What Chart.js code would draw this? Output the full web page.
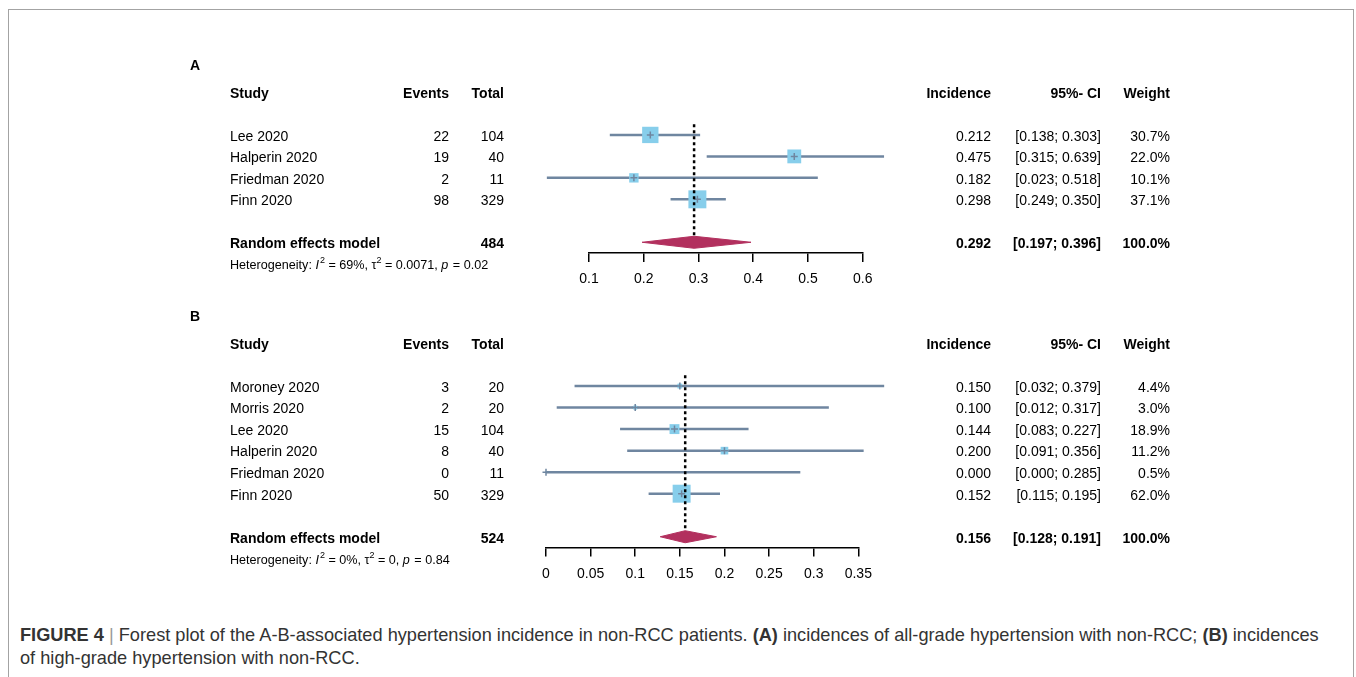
<!DOCTYPE html>
<html>
<head>
<meta charset="utf-8">
<script src="https://cdn.jsdelivr.net/npm/chart.js@4.4.1/dist/chart.umd.min.js"></script>
<style>
  body { margin: 0; background: #fff; width: 1356px; height: 677px; overflow: hidden; position: relative;
         font-family: "Liberation Sans", Arial, sans-serif; }
  #frame { position: absolute; left: 8px; top: 9px; width: 1344px; height: 720px;
           border: 1.5px solid #a3a3a3; border-bottom: none; }
  canvas { position: absolute; left: 0; }
  #chartA { top: 0; }
  #chartB { top: 300px; }
  #caption { position: absolute; left: 20px; top: 624px; font-size: 18.2px; line-height: 23px;
             color: #333; white-space: nowrap; }
  #caption .sep { color: #999; }
</style>
</head>
<body>
<div id="frame"></div>
<canvas id="chartA" width="1356" height="300"></canvas>
<canvas id="chartB" width="1356" height="290"></canvas>
<div id="caption"><b>FIGURE 4</b> <span class="sep">|</span> Forest plot of the A-B-associated hypertension incidence in non-RCC patients. <b>(A)</b> incidences of all-grade hypertension with non-RCC; <b>(B)</b> incidences<br>of high-grade hypertension with non-RCC.</div>

<script>
// panel A - all-grade hypertension
const studiesA = ['Lee 2020', 'Halperin 2020', 'Friedman 2020', 'Finn 2020'];
const eventsA = [22, 19, 2, 98];
const totalsA = [104, 40, 11, 329];
const incidenceA = [0.212, 0.475, 0.182, 0.298];
const lowerA = [0.138, 0.315, 0.023, 0.249];
const upperA = [0.303, 0.639, 0.518, 0.350];
const weightA = [30.7, 22.0, 10.1, 37.1];
const pooledA = [0.292, 0.197, 0.396];   // estimate, lower, upper
const pooledTotalA = 484;
const hetA = ['69%', '0.0071', '0.02'];  // I2, tau2, p
const ticksA = [0.1, 0.2, 0.3, 0.4, 0.5, 0.6];
const tickLabelsA = ['0.1', '0.2', '0.3', '0.4', '0.5', '0.6'];

// panel B - high-grade hypertension
const studiesB = ['Moroney 2020', 'Morris 2020', 'Lee 2020', 'Halperin 2020', 'Friedman 2020', 'Finn 2020'];
const eventsB = [3, 2, 15, 8, 0, 50];
const totalsB = [20, 20, 104, 40, 11, 329];
const incidenceB = [0.150, 0.100, 0.144, 0.200, 0.000, 0.152];
const lowerB = [0.032, 0.012, 0.083, 0.091, 0.000, 0.115];
const upperB = [0.379, 0.317, 0.227, 0.356, 0.285, 0.195];
const weightB = [4.4, 3.0, 18.9, 11.2, 0.5, 62.0];
const pooledB = [0.156, 0.128, 0.191];
const pooledTotalB = 524;
const hetB = ['0%', '0', '0.84'];
const ticksB = [0, 0.05, 0.1, 0.15, 0.2, 0.25, 0.3, 0.35];
const tickLabelsB = ['0', '0.05', '0.1', '0.15', '0.2', '0.25', '0.3', '0.35'];

const FONT = '"Liberation Sans", Arial, sans-serif';
const CI_COLOR = '#6f86a0';
const SQUARE_COLOR = '#87ceeb';
const DIAMOND_COLOR = '#b2305e';
const DIAMOND_HALF = 0.28;   // half height of the diamond, in rows
const TEXT_SHIFT = 2;        // canvas 'middle' sits a bit high

const tablePlugin = {
  id: 'forestTable',
  afterDraw(chart, args, opts) {
    const p = opts.panel;
    const ctx = chart.ctx;
    const ys = chart.scales.y;
    const n = p.studies.length;
    const yRow = r => ys.getPixelForValue(r) + TEXT_SHIFT;
    ctx.save();
    ctx.fillStyle = '#000';
    ctx.textBaseline = 'middle';

    const text = (s, x, r, align, bold) => {
      ctx.font = (bold ? 'bold ' : '') + '14px ' + FONT;
      ctx.textAlign = align;
      ctx.fillText(s, x, yRow(r));
    };

    ctx.font = 'bold 14px ' + FONT;
    ctx.textAlign = 'left';
    ctx.fillText(p.letter, 190, yRow(0) - 28);

    // header
    text('Study', 230, 0, 'left', true);
    text('Events', 449, 0, 'right', true);
    text('Total', 504, 0, 'right', true);
    text('Incidence', 991, 0, 'right', true);
    text('95%- CI', 1101, 0, 'right', true);
    text('Weight', 1170, 0, 'right', true);

    p.studies.forEach((s, i) => {
      const r = i + 2;
      text(s, 230, r, 'left');
      text(String(p.events[i]), 449, r, 'right');
      text(String(p.totals[i]), 504, r, 'right');
      text(p.est[i].toFixed(3), 991, r, 'right');
      text('[' + p.lo[i].toFixed(3) + '; ' + p.hi[i].toFixed(3) + ']', 1101, r, 'right');
      text(p.weight[i].toFixed(1) + '%', 1170, r, 'right');
    });

    const pr = n + 3;
    text('Random effects model', 230, pr, 'left', true);
    text(String(p.pooledTotal), 504, pr, 'right', true);
    text(p.pooled[0].toFixed(3), 991, pr, 'right', true);
    text('[' + p.pooled[1].toFixed(3) + '; ' + p.pooled[2].toFixed(3) + ']', 1101, pr, 'right', true);
    text('100.0%', 1170, pr, 'right', true);

    // heterogeneity line with superscripts
    const parts = [
      ['Heterogeneity: ', 'n'], ['I', 'i'], ['2', 's'], [' = ' + p.het[0] + ', ', 'n'],
      ['\u03c4', 'n'], ['2', 's'], [' = ' + p.het[1] + ', ', 'n'], ['p', 'i'], [' = ' + p.het[2], 'n']
    ];
    let x = 230;
    const hy = yRow(n + 4);
    ctx.textAlign = 'left';
    parts.forEach(([s, k]) => {
      ctx.font = k === 's' ? '9px ' + FONT : (k === 'i' ? 'italic ' : '') + '12.6px ' + FONT;
      ctx.fillText(s, x, k === 's' ? hy - 5 : hy);
      x += ctx.measureText(s).width + (k === 'i' ? 1 : 0);
    });
    ctx.restore();
  }
};

function buildPanel(id, p, area) {
  const n = p.studies.length;
  const maxW = Math.max(...p.weight);
  const rows = p.studies.map((s, i) => i + 2);
  const pr = n + 3;
  const datasets = [];

  p.studies.forEach((s, i) => {
    datasets.push({
      data: [{ x: p.lo[i], y: rows[i] }, { x: p.hi[i], y: rows[i] }],
      borderColor: CI_COLOR, borderWidth: 2.5, pointRadius: 0, clip: false, order: 5
    });
  });
  datasets.push({
    data: p.est.map((e, i) => ({ x: e, y: rows[i] })),
    showLine: false, pointStyle: 'rect',
    pointRadius: c => 12.7 * Math.sqrt(p.weight[c.dataIndex] / maxW),
    pointBackgroundColor: SQUARE_COLOR, pointBorderWidth: 0, clip: false, order: 4
  });
  datasets.push({
    data: p.est.map((e, i) => ({ x: e, y: rows[i] })),
    showLine: false, pointStyle: 'cross', pointRadius: 3.5,
    pointBorderColor: CI_COLOR, pointBorderWidth: 1.5, clip: false, order: 3
  });
  datasets.push({
    data: [
      { x: p.pooled[1], y: pr }, { x: p.pooled[0], y: pr - DIAMOND_HALF },
      { x: p.pooled[2], y: pr }, { x: p.pooled[0], y: pr + DIAMOND_HALF },
      { x: p.pooled[1], y: pr }
    ],
    fill: 'shape', backgroundColor: DIAMOND_COLOR, borderColor: DIAMOND_COLOR, borderWidth: 1,
    pointRadius: 0, tension: 0, clip: false, order: 2
  });
  datasets.push({
    data: [{ x: p.pooled[0], y: 1.5 }, { x: p.pooled[0], y: pr - DIAMOND_HALF }],
    borderColor: '#000', borderWidth: 2.5, borderDash: [3, 3], pointRadius: 0, clip: false, order: 1
  });

  const canvas = document.getElementById(id);
  return new Chart(canvas.getContext('2d'), {
    type: 'line',
    data: { datasets: datasets },
    options: {
      responsive: false,
      animation: false,
      devicePixelRatio: 1,
      events: [],
      layout: {
        padding: {
          left: area.left, right: canvas.width - area.right,
          top: area.top, bottom: canvas.height - area.bottom - 40
        }
      },
      plugins: {
        legend: { display: false },
        tooltip: { enabled: false },
        forestTable: { panel: p }
      },
      scales: {
        x: {
          type: 'linear', min: p.ticks[0], max: p.ticks[p.ticks.length - 1],
          afterBuildTicks: s => { s.ticks = p.ticks.map(v => ({ value: v })); },
          afterFit: s => { s.height = 40; },
          ticks: {
            callback: (v, i) => p.tickLabels[i],
            font: { family: FONT, size: 14 }, color: '#000', padding: 9,
            maxRotation: 0, autoSkip: false
          },
          grid: { drawOnChartArea: false, drawTicks: true, tickLength: 9, color: '#000', lineWidth: 1.5 },
          border: { display: true, color: '#000', width: 1.5 }
        },
        y: { type: 'linear', reverse: true, min: 0, max: n + 3.5, display: false }
      }
    },
    plugins: [tablePlugin]
  });
}

buildPanel('chartA', {
  letter: 'A', studies: studiesA, events: eventsA, totals: totalsA,
  est: incidenceA, lo: lowerA, hi: upperA, weight: weightA,
  pooled: pooledA, pooledTotal: pooledTotalA, het: hetA,
  ticks: ticksA, tickLabels: tickLabelsA
}, { left: 589, right: 862.7, top: 92, bottom: 253 });

buildPanel('chartB', {
  letter: 'B', studies: studiesB, events: eventsB, totals: totalsB,
  est: incidenceB, lo: lowerB, hi: upperB, weight: weightB,
  pooled: pooledB, pooledTotal: pooledTotalB, het: hetB,
  ticks: ticksB, tickLabels: tickLabelsB
}, { left: 546, right: 858.3, top: 43, bottom: 247.5 });
</script>
</body>
</html>
